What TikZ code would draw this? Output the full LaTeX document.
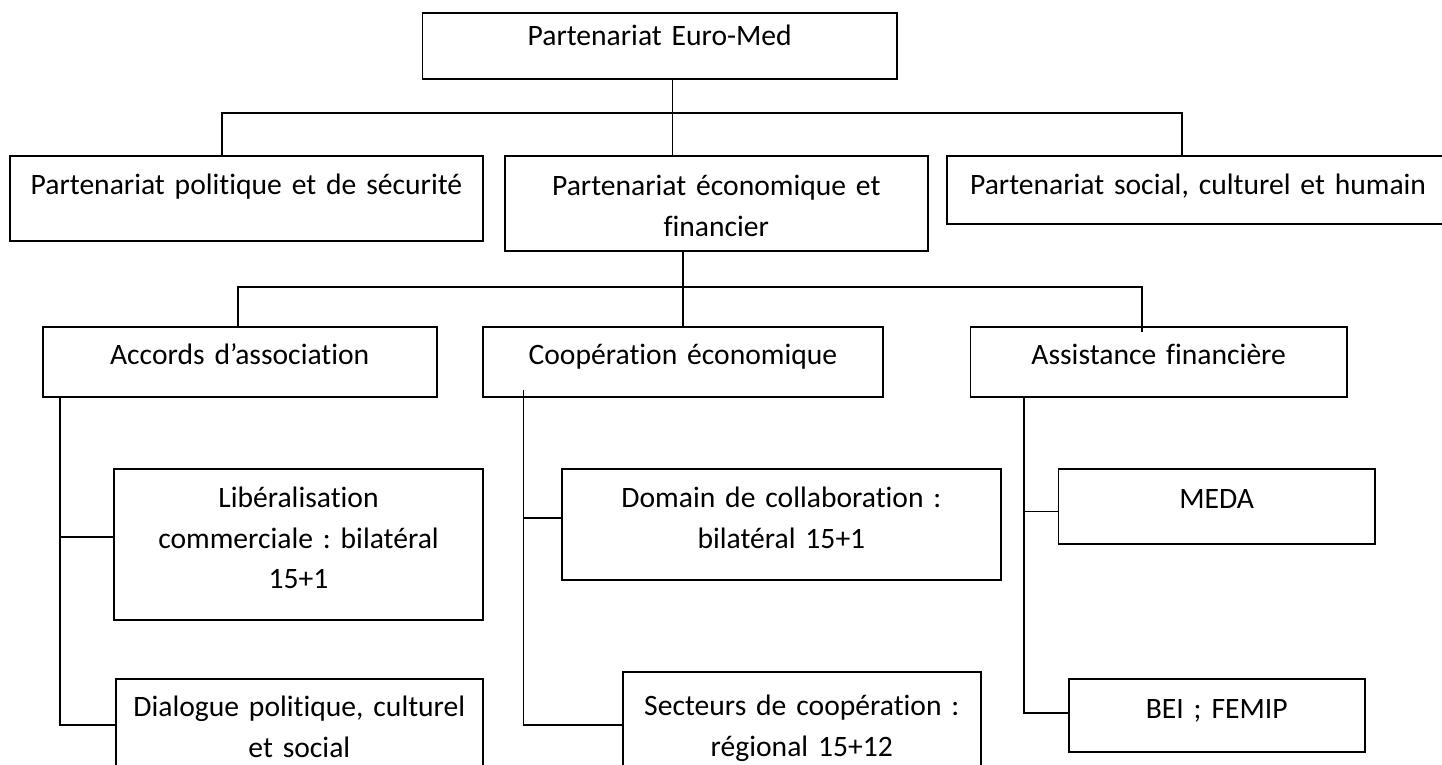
\documentclass[tikz,border=0pt]{standalone}
\usepackage{fontspec}
\setmainfont{Carlito}[Ligatures=NoCommon,WordSpace=0.8]
\usepackage{tikz}
\frenchspacing

\begin{document}
\begin{tikzpicture}[x=1pt,y=-1pt]
		\tikzstyle{box}=[draw=black,line width=1.9pt,rectangle,inner sep=0pt,anchor=north west,align=center,font=\fontsize{29.6}{40.5}\selectfont]
		\tikzstyle{conn}=[draw=black,line width=1.7pt]
		\clip (0,0) rectangle (1442,765);
		% top level
		\node[box,text width=474.5pt,text height=32.7pt,text depth=33pt] (euro) at (421.5,12.3) {Partenariat Euro-Med};
		\node[box,text width=472.4pt,text height=39pt,text depth=46pt] (pol) at (9.3,155) {Partenariat politique et de sécurité};
		\node[box,text width=422.7pt,text height=40pt,text depth=55pt] (eco) at (504,155) {Partenariat économique et\\financier};
		\node[box,text width=503pt,text height=38.5pt,text depth=29.2pt] (soc) at (945.6,155) {Partenariat social, culturel et humain};
		% second level
		\node[box,text width=393.9pt,text height=38pt,text depth=31.7pt] (acc) at (41.8,326) {Accords d’association};
		\node[box,text width=400pt,text height=38pt,text depth=32pt] (coop) at (482,326) {Coopération économique};
		\node[box,text width=376.5pt,text height=38pt,text depth=32pt] (assist) at (969.5,326) {Assistance financière};
		% third level
		\node[box,text width=368.3pt,text height=38.7pt,text depth=112.3pt] (lib) at (113.4,468) {Libéralisation\\commerciale : bilatéral\\15+1};
		\node[box,text width=367.2pt,text height=37.7pt,text depth=54.3pt] (dia) at (114.8,678.3) {Dialogue politique, culturel\\et social};
		\node[box,text width=439pt,text height=39.3pt,text depth=72.3pt] (dom) at (561,467.7) {Domain de collaboration :\\bilatéral 15+1};
		\node[box,text width=358.3pt,text height=44.3pt,text depth=62pt] (sect) at (621.7,670.7) {Secteurs de coopération :\\régional 15+12};
		\node[box,text width=316.5pt,text height=40.3pt,text depth=35.3pt] (meda) at (1057.5,467.7) {MEDA};
		\node[box,text width=296.4pt,text height=39.2pt,text depth=33.2pt] (bei) at (1067.6,678.3) {BEI ; FEMIP};
		% connectors
		\coordinate (t0) at (672.6,0);
		\coordinate (busL) at (222,112.7);
		\coordinate (busR) at (1182,112.7);
		\draw[conn] (euro.south -| t0) -- (eco.north -| t0);
		\draw[conn] (pol.north -| busL) -- (busL) -- (busR) -- (soc.north -| busR);
		\coordinate (t1) at (682.7,0);
		\coordinate (bus2L) at (237.8,286.7);
		\coordinate (bus2R) at (1141.7,286.7);
		\coordinate (bus2D) at (1141.7,331.7);
		\draw[conn] (eco.south -| t1) -- (coop.north -| t1);
		\draw[conn] (acc.north -| bus2L) -- (bus2L) -- (bus2R) -- (bus2D);
		\coordinate (accT) at (59.7,396);
		\coordinate (coopT) at (523.4,390);
		\coordinate (asT) at (1024,396);
		\foreach \t/\n/\s in {accT/lib/7.5,accT/dia/0,coopT/dom/6.5,coopT/sect/0,asT/meda/-5,asT/bei/2.5}{
			\draw[conn] (\t) |- ([yshift=\s pt]\n.west);
		};
	\end{tikzpicture}
\end{document}
